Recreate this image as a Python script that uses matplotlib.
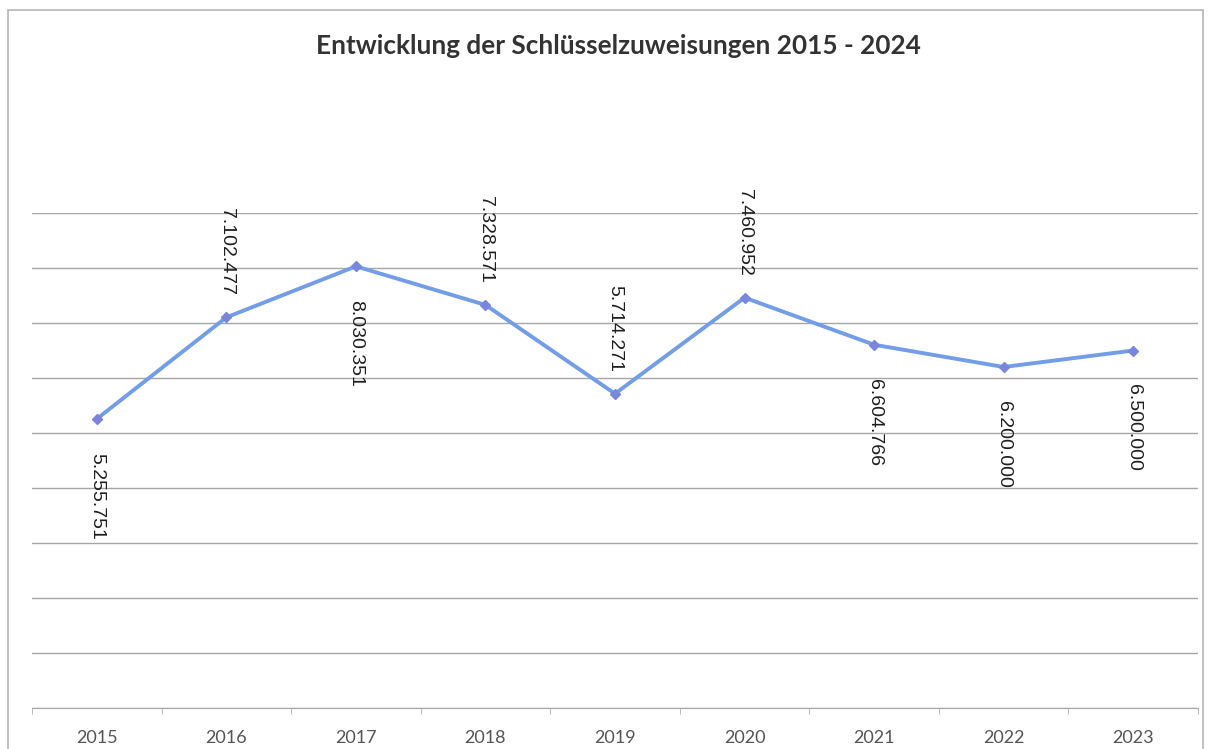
import matplotlib
matplotlib.use("Agg")
import matplotlib.pyplot as plt
from matplotlib.patches import Rectangle
import numpy as np

years = ["2015", "2016", "2017", "2018", "2019", "2020", "2021", "2022", "2023"]
values = [5255751, 7102477, 8030351, 7328571, 5714271, 7460952, 6604766, 6200000, 6500000]
label_side = ["below", "above", "below", "above", "above", "above", "below", "below", "below"]
title = "Entwicklung der Schlüsselzuweisungen 2015 - 2024"

def fmt(v):
    return f"{v:,}".replace(",", ".")

W, H = 1208, 749
fig = plt.figure(figsize=(W / 100, H / 100), dpi=100)
fig.patch.set_facecolor("white")

# outer chart border
fig.patches.append(Rectangle((8 / W, -0.01), (1203 - 8) / W, 1 - 10 / H + 0.01,
                             transform=fig.transFigure, fill=False,
                             edgecolor="#b5b5b5", linewidth=1.2))

ax = fig.add_axes([32 / W, 1 - 708 / H, (1198 - 32) / W, (708 - 213) / H])
x = np.arange(len(years))
ax.plot(x, values, color="#739de6", linewidth=2.8, marker="D", markersize=5,
        markerfacecolor="#7a86dc", markeredgecolor="#7a86dc", zorder=3)

ax.set_xlim(-0.5, len(years) - 0.5)
ax.set_ylim(0, 9000000)
ax.set_yticks(np.arange(0, 9000001, 1000000))
ax.yaxis.grid(True, color="#a6a6a6", linewidth=1.0)
ax.set_axisbelow(True)
ax.tick_params(axis="y", left=False, labelleft=False)

ax.set_xticks(x)
ax.set_xticklabels(years, fontsize=13, color="#555555", family="Lato")
ax.tick_params(axis="x", length=0, pad=16)
ax.set_xticks(np.arange(-0.5, len(years), 1), minor=True)
ax.tick_params(axis="x", which="minor", length=4, color="#b0b0b0", direction="out")

for s in ["top", "right", "left"]:
    ax.spines[s].set_visible(False)
ax.spines["bottom"].set_color("#a6a6a6")

for xi, v, side in zip(x, values, label_side):
    if side == "above":
        ax.annotate(fmt(v), (xi, v), xytext=(0, 22), textcoords="offset pixels",
                    rotation=-90, ha="center", va="bottom", fontsize=14,
                    family="Liberation Sans", color="#1e1e1e")
    else:
        ax.annotate(fmt(v), (xi, v), xytext=(0, -34), textcoords="offset pixels",
                    rotation=-90, ha="center", va="top", fontsize=14,
                    family="Liberation Sans", color="#1e1e1e")

fig.text(618 / W, 1 - 46 / H, title, ha="center", va="center", fontsize=18.8,
         fontweight="bold", family="Lato", color="#333333")

fig.savefig("out.png", dpi=100)
